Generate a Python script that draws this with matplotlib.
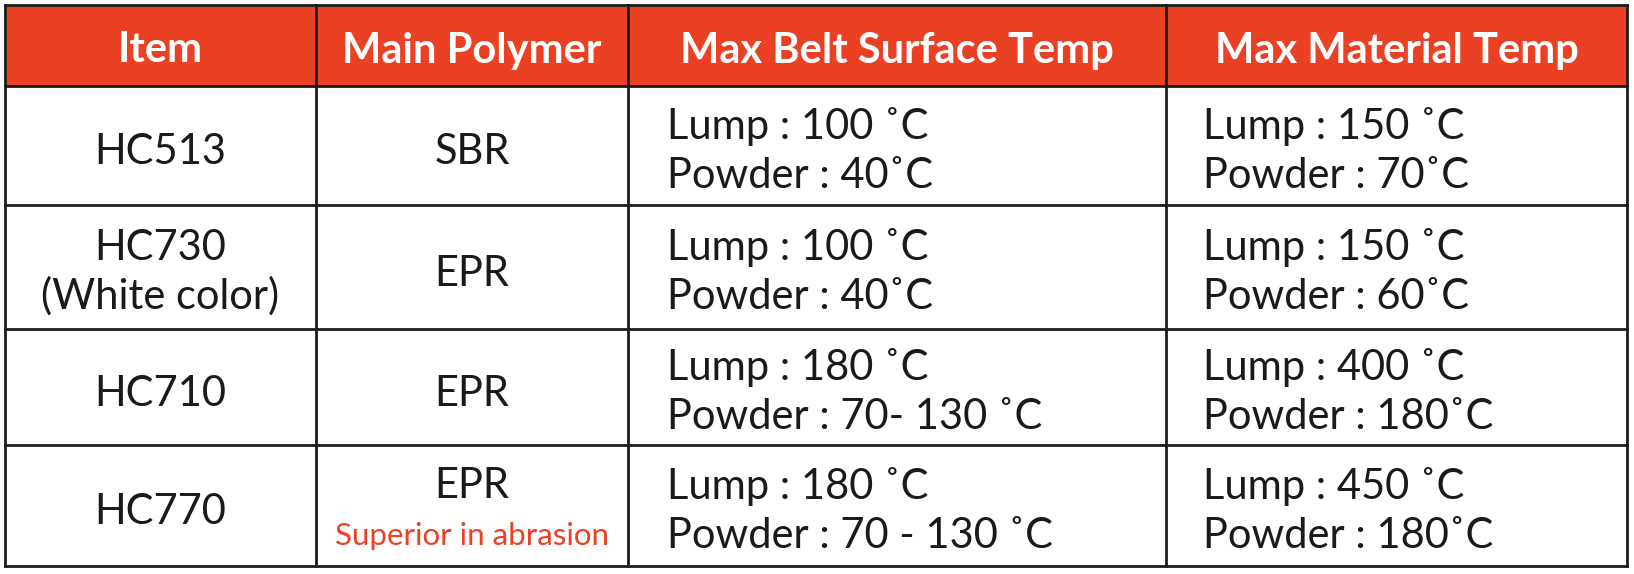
import matplotlib
matplotlib.use("Agg")
import matplotlib.pyplot as plt
import matplotlib.patches as mpatches

# ── table content ──
headers = ["Item", "Main Polymer", "Max Belt Surface Temp", "Max Material Temp"]
items = ["HC513", "HC730\n(White color)", "HC710", "HC770"]
polymers = ["SBR", "EPR", "EPR", "EPR"]
polymer_notes = ["", "", "", "Superior in abrasion"]
belt_temps = [
    "Lump : 100 ˚C\nPowder : 40˚C",
    "Lump : 100 ˚C\nPowder : 40˚C",
    "Lump : 180 ˚C\nPowder : 70- 130 ˚C",
    "Lump : 180 ˚C\nPowder : 70 - 130 ˚C",
]
material_temps = [
    "Lump : 150 ˚C\nPowder : 70˚C",
    "Lump : 150 ˚C\nPowder : 60˚C",
    "Lump : 400 ˚C\nPowder : 180˚C",
    "Lump : 450 ˚C\nPowder : 180˚C",
]

# ── layout in pixels ──
W, H = 1634, 574
col_x = [5, 316, 628, 1166, 1627]
row_y = [5, 86, 205, 329, 445, 566]
RED = "#EA4125"
LINE = "#1c1c1c"
TEXT = "#1a1a1a"
FONT = ["Lato", "DejaVu Sans"]
BODY_SIZE = 30
CAP = 30          # approx cap height in px at BODY_SIZE
GAP = 49          # distance between the two lines of a cell

fig = plt.figure(figsize=(W / 100, H / 100), dpi=100)
ax = fig.add_axes([0, 0, 1, 1])
ax.set_xlim(0, W)
ax.set_ylim(H, 0)
ax.axis("off")

# header band
ax.add_patch(mpatches.Rectangle((col_x[0], row_y[0]), col_x[-1] - col_x[0],
                                row_y[1] - row_y[0], facecolor=RED, edgecolor="none"))

# grid lines
for x in col_x:
    ax.plot([x, x], [row_y[0], row_y[-1]], color=LINE, lw=2.0, solid_capstyle="projecting")
for y in row_y:
    ax.plot([col_x[0], col_x[-1]], [y, y], color=LINE, lw=2.0, solid_capstyle="projecting")

# header text
for i, h in enumerate(headers):
    cx = (col_x[i] + col_x[i + 1]) / 2
    cy = (row_y[0] + row_y[1]) / 2
    ax.text(cx, cy + 2 + CAP / 2, h, ha="center", va="baseline", color="white",
            fontsize=30, fontweight="bold", family=FONT)


def cell_lines(x, cy, lines, ha, colors=None, sizes=None, shifts=None):
    # one or two lines, placed by baseline so the caps sit like the reference
    n = len(lines)
    if n == 1:
        offsets = [4]
    else:
        offsets = [-22, -22 + GAP]
    for k, line in enumerate(lines):
        ax.text(x, cy + offsets[k] + CAP / 2 + (shifts or [0] * n)[k], line,
                ha=ha, va="baseline",
                color=(colors or [TEXT] * n)[k],
                fontsize=(sizes or [BODY_SIZE] * n)[k],
                family=FONT)


for r in range(len(items)):
    top, bot = row_y[r + 1], row_y[r + 2]
    cy = (top + bot) / 2

    cell_lines((col_x[0] + col_x[1]) / 2, cy, items[r].split("\n"), "center")

    pc = (col_x[1] + col_x[2]) / 2
    if polymer_notes[r]:
        cell_lines(pc, cy, [polymers[r], polymer_notes[r]], "center",
                   colors=[TEXT, RED], sizes=[BODY_SIZE, 22.5], shifts=[0, -3])
    else:
        cell_lines(pc, cy, [polymers[r]], "center")

    cell_lines(col_x[2] + 39, cy, belt_temps[r].split("\n"), "left")
    cell_lines(col_x[3] + 37, cy, material_temps[r].split("\n"), "left")

fig.savefig("out.png", dpi=100, facecolor="white")
